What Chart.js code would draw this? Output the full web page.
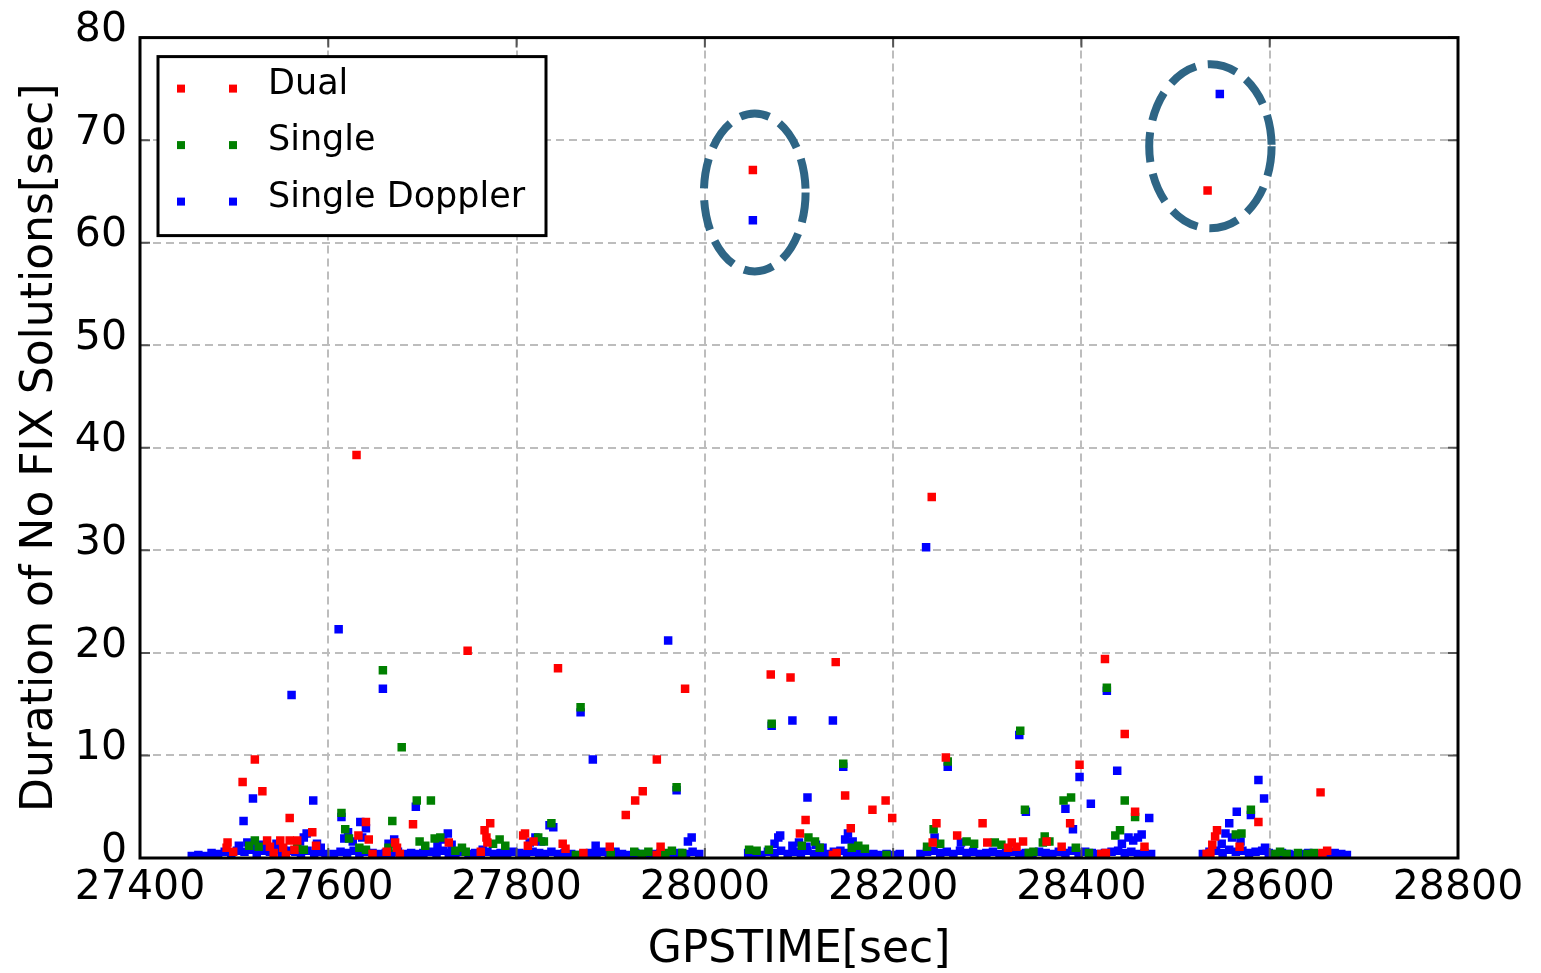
<!DOCTYPE html>
<html>
<head>
<meta charset="utf-8">
<script src="https://cdn.jsdelivr.net/npm/chart.js@4.4.1/dist/chart.umd.min.js"></script>
<style>
  html, body { margin: 0; padding: 0; background: #fff; }
  canvas { display: block; }
</style>
</head>
<body>
<canvas id="myChart" width="1541" height="973"></canvas>
<script>
// [GPS time (sec), duration of no FIX (sec)]
const dual = [
  [27492, 1.0], [27493, 1.5], [27499, 0.6], [27509, 7.4], [27522, 9.6], [27530, 6.5], [27535, 1.7], [27538, 1.1],
  [27542, 0.5], [27549, 1.7], [27552, 1.0], [27555, 0.3], [27559, 3.9], [27559, 1.7], [27564, 0.8], [27567, 1.7],
  [27583, 2.5], [27587, 1.2], [27630, 39.3], [27632, 2.2], [27640, 3.5], [27643, 1.8], [27647, 0.4], [27662, 0.6],
  [27671, 1.5], [27673, 1.0], [27676, 0.4], [27690, 3.3], [27728, 1.5], [27748, 20.2], [27762, 0.6], [27766, 2.7],
  [27768, 2.0], [27769, 1.5], [27772, 3.4], [27807, 2.2], [27809, 2.4], [27812, 1.2], [27818, 1.6], [27844, 18.5],
  [27849, 1.4], [27852, 0.9], [27871, 0.5], [27899, 1.1], [27916, 4.2], [27926, 5.6], [27934, 6.5], [27949, 9.6],
  [27949, 0.3], [27953, 1.1], [27979, 16.5], [28051, 67.1], [28070, 17.9], [28091, 17.6], [28101, 2.4], [28107, 3.7],
  [28136, 0.3], [28139, 19.1], [28140, 0.5], [28149, 6.1], [28155, 2.9], [28178, 4.7], [28192, 5.6], [28199, 3.9],
  [28241, 35.2], [28242, 1.5], [28246, 3.4], [28256, 9.8], [28268, 2.2], [28295, 3.4], [28300, 1.5], [28322, 1.0],
  [28326, 1.5], [28331, 1.1], [28338, 1.6], [28363, 1.6], [28379, 1.1], [28388, 3.4], [28398, 9.1], [28421, 0.4],
  [28425, 19.4], [28426, 0.5], [28446, 12.1], [28457, 4.5], [28467, 1.1], [28533, 0.4], [28534, 65.1], [28537, 0.5],
  [28539, 1.3], [28542, 2.1], [28544, 2.7], [28568, 1.1], [28588, 3.5], [28654, 6.4], [28656, 0.5], [28661, 0.7]
];

const single = [
  [27516, 1.2], [27522, 1.7], [27526, 1.1], [27567, 1.0], [27574, 0.8], [27614, 4.4], [27618, 2.8], [27622, 1.9],
  [27633, 1.0], [27640, 0.8], [27658, 18.3], [27664, 1.0], [27668, 3.6], [27678, 10.8], [27694, 5.6], [27697, 1.6],
  [27703, 1.2], [27709, 5.6], [27713, 1.9], [27719, 2.0], [27735, 0.7], [27742, 1.0], [27746, 0.6], [27775, 1.4],
  [27782, 1.8], [27788, 1.2], [27823, 2.0], [27829, 1.6], [27837, 3.4], [27863, 0.3], [27868, 14.7], [27900, 0.5],
  [27925, 0.6], [27933, 0.4], [27940, 0.6], [27958, 0.5], [27965, 0.7], [27970, 6.9], [27976, 0.5], [28047, 0.8],
  [28055, 0.7], [28068, 0.8], [28071, 13.1], [28103, 1.2], [28110, 2.0], [28117, 1.6], [28122, 1.0], [28147, 9.2],
  [28156, 1.0], [28163, 1.2], [28170, 0.9], [28193, 0.3], [28236, 1.1], [28243, 2.8], [28250, 1.4], [28258, 9.4],
  [28278, 1.6], [28286, 1.4], [28308, 1.5], [28315, 1.3], [28335, 12.4], [28340, 4.7], [28344, 0.5], [28349, 0.6],
  [28359, 1.5], [28361, 2.1], [28366, 1.6], [28381, 5.6], [28389, 5.9], [28394, 1.0], [28408, 0.5], [28427, 16.6],
  [28436, 2.2], [28441, 2.7], [28446, 5.6], [28457, 4.0], [28564, 2.3], [28570, 2.4], [28580, 4.7], [28606, 0.4],
  [28611, 0.6], [28618, 0.4], [28630, 0.5], [28640, 0.4], [28647, 0.5]
];

const singleDoppler = [
  [27505, 1.2], [27510, 3.6], [27514, 1.5], [27520, 5.8], [27523, 1.0], [27530, 1.3], [27537, 1.0], [27545, 1.4],
  [27552, 0.8], [27561, 15.9], [27570, 1.6], [27574, 2.0], [27577, 2.4], [27584, 5.6], [27588, 1.4], [27592, 1.0],
  [27611, 22.3], [27614, 4.0], [27617, 1.9], [27621, 2.5], [27626, 1.6], [27634, 3.5], [27636, 2.0], [27640, 2.9],
  [27658, 16.5], [27664, 1.4], [27670, 1.8], [27693, 5.0], [27716, 1.2], [27722, 1.8], [27727, 2.4], [27731, 1.3],
  [27764, 0.8], [27814, 1.5], [27820, 2.0], [27826, 1.6], [27835, 3.2], [27839, 3.0], [27868, 14.2], [27881, 9.6],
  [27884, 1.2], [27905, 0.6], [27961, 21.2], [27970, 6.6], [27982, 1.6], [27986, 2.0], [28051, 62.2], [28071, 12.9],
  [28074, 1.4], [28078, 2.0], [28080, 2.2], [28093, 1.2], [28093, 13.4], [28100, 1.5], [28108, 1.1], [28109, 5.9],
  [28118, 1.3], [28125, 1.0], [28136, 13.4], [28147, 8.9], [28149, 1.8], [28152, 2.4], [28157, 1.6], [28235, 30.3],
  [28244, 2.0], [28258, 8.9], [28272, 1.5], [28334, 12.0], [28341, 4.5], [28383, 4.8], [28391, 2.8], [28398, 7.9],
  [28410, 5.3], [28427, 16.3], [28438, 8.5], [28443, 1.4], [28450, 2.0], [28455, 1.7], [28460, 2.0], [28464, 2.3],
  [28472, 3.9], [28547, 74.5], [28549, 1.4], [28553, 2.4], [28557, 3.4], [28560, 2.0], [28565, 4.5], [28569, 1.6],
  [28580, 4.2], [28588, 7.6], [28594, 5.8], [28595, 1.0], [28675, 0.3],
  // dense run of short outages along the bottom
  [27455, 0.2], [27462, 0.3], [27470, 0.2], [27476, 0.5], [27483, 0.4], [27490, 0.6], [27497, 0.5], [27503, 0.7],
  [27511, 0.6], [27517, 0.8], [27524, 0.5], [27531, 0.7], [27538, 0.6], [27544, 0.8], [27551, 0.5], [27558, 0.7],
  [27565, 0.6], [27571, 0.5], [27578, 0.7], [27585, 0.4], [27591, 0.6], [27597, 0.4], [27606, 0.4], [27613, 0.6],
  [27620, 0.5], [27627, 0.7], [27633, 0.4], [27640, 0.6], [27647, 0.5], [27654, 0.4], [27661, 0.5], [27667, 0.4],
  [27674, 0.6], [27681, 0.4], [27688, 0.5], [27694, 0.4], [27701, 0.5], [27708, 0.6], [27715, 0.4], [27722, 0.7],
  [27728, 0.5], [27735, 0.4], [27742, 0.6], [27749, 0.4], [27756, 0.5], [27762, 0.4], [27769, 0.6], [27776, 0.4],
  [27783, 0.5], [27790, 0.4], [27796, 0.6], [27803, 0.5], [27810, 0.4], [27817, 0.6], [27824, 0.5], [27830, 0.4],
  [27837, 0.6], [27844, 0.4], [27851, 0.5], [27858, 0.4], [27864, 0.3], [27871, 0.4], [27878, 0.5], [27885, 0.4],
  [27892, 0.6], [27898, 0.4], [27905, 0.5], [27912, 0.4], [27919, 0.3], [27926, 0.5], [27932, 0.4], [27939, 0.3],
  [27946, 0.4], [27953, 0.5], [27960, 0.3], [27966, 0.4], [27973, 0.5], [27980, 0.4], [27987, 0.6], [27994, 0.4],
  [28046, 0.5], [28053, 0.4], [28060, 0.3], [28067, 0.6], [28074, 0.5], [28081, 0.7], [28088, 0.4], [28095, 0.6],
  [28102, 0.5], [28109, 0.7], [28116, 0.4], [28123, 0.5], [28130, 0.4], [28137, 0.6], [28144, 0.7], [28151, 0.5],
  [28158, 0.4], [28165, 0.5], [28172, 0.3], [28179, 0.4], [28186, 0.3], [28193, 0.4], [28200, 0.3], [28207, 0.4],
  [28229, 0.4], [28236, 0.6], [28243, 0.7], [28250, 0.5], [28257, 0.6], [28264, 0.4], [28271, 0.7], [28278, 0.5],
  [28285, 0.6], [28292, 0.4], [28299, 0.5], [28306, 0.6], [28313, 0.4], [28320, 0.5], [28327, 0.6], [28334, 0.4],
  [28341, 0.5], [28348, 0.4], [28355, 0.6], [28362, 0.5], [28369, 0.4], [28376, 0.6], [28383, 0.5], [28390, 0.7],
  [28397, 0.4], [28404, 0.6], [28411, 0.5], [28418, 0.4], [28425, 0.5], [28432, 0.6], [28439, 0.7], [28446, 0.5],
  [28453, 0.6], [28460, 0.4], [28467, 0.5], [28474, 0.4], [28529, 0.4], [28536, 0.6], [28543, 0.7], [28550, 0.5],
  [28557, 0.8], [28564, 0.6], [28571, 0.7], [28578, 0.5], [28585, 0.6], [28592, 0.7], [28599, 0.5], [28606, 0.4],
  [28613, 0.5], [28620, 0.4], [28627, 0.3], [28634, 0.4], [28641, 0.5], [28648, 0.4], [28655, 0.3], [28662, 0.4],
  [28669, 0.5], [28676, 0.4], [28682, 0.3]
];

const xTicks = [27400, 27600, 27800, 28000, 28200, 28400, 28600, 28800];
const yTicks = [0, 10, 20, 30, 40, 50, 60, 70, 80];

const seriesNames = ['Dual', 'Single', 'Single Doppler'];
const seriesColors = ['#ff0000', '#008000', '#0000ff'];

// dashed rings drawn around the outliers (center time, center duration, half-widths in data units)
const circled = [
  { t: 28053, d: 64.9, rt: 54, rd: 7.7 },
  { t: 28537, d: 69.4, rt: 65, rd: 8.0 }
];

const toPoints = arr => arr.map(p => ({ x: p[0], y: p[1] }));

const framePlugin = {
  id: 'frame',
  afterDatasetsDraw(chart) {
    const { ctx, chartArea: a, scales: { x, y } } = chart;
    ctx.save();
    ctx.strokeStyle = '#555';
    ctx.lineWidth = 2;
    ctx.beginPath();
    xTicks.forEach(v => {
      const px = x.getPixelForValue(v);
      ctx.moveTo(px, a.bottom); ctx.lineTo(px, a.bottom - 10);
      ctx.moveTo(px, a.top); ctx.lineTo(px, a.top + 10);
    });
    yTicks.forEach(v => {
      const py = y.getPixelForValue(v);
      ctx.moveTo(a.left, py); ctx.lineTo(a.left + 10, py);
      ctx.moveTo(a.right, py); ctx.lineTo(a.right - 10, py);
    });
    ctx.stroke();

    ctx.strokeStyle = '#000';
    ctx.lineWidth = 3;
    ctx.strokeRect(a.left, a.top, a.right - a.left, a.bottom - a.top);

    // rings
    ctx.strokeStyle = '#2e6585';
    ctx.lineWidth = 8;
    ctx.setLineDash([30, 12]);
    circled.forEach(c => {
      const cx = x.getPixelForValue(c.t);
      const cy = y.getPixelForValue(c.d);
      const rx = Math.abs(x.getPixelForValue(c.t + c.rt) - cx);
      const ry = Math.abs(y.getPixelForValue(c.d + c.rd) - cy);
      ctx.beginPath();
      ctx.ellipse(cx, cy, rx, ry, 0, 0, Math.PI * 2);
      ctx.stroke();
    });
    ctx.restore();
  },
  afterDraw(chart) {
    const { ctx, chartArea: a } = chart;
    const bx = a.left + 18, by = a.top + 19, bw = 388, bh = 179;
    ctx.save();
    ctx.fillStyle = '#fff';
    ctx.fillRect(bx, by, bw, bh);
    ctx.strokeStyle = '#000';
    ctx.lineWidth = 3;
    ctx.strokeRect(bx, by, bw, bh);
    ctx.font = '35px "DejaVu Sans"';
    ctx.textBaseline = 'middle';
    seriesNames.forEach((name, i) => {
      const ry = by + 32 + i * 56.5;
      ctx.fillStyle = seriesColors[i];
      ctx.fillRect(bx + 19, ry - 4, 8, 8);
      ctx.fillRect(bx + 71, ry - 4, 8, 8);
      ctx.fillStyle = '#000';
      ctx.fillText(name, bx + 110, ry - 4);
    });
    ctx.restore();
  }
};

const ctx = document.getElementById('myChart').getContext('2d');

const chart = new Chart(ctx, {
  type: 'scatter',
  data: {
    datasets: [dual, single, singleDoppler].map((arr, i) => ({
      label: seriesNames[i],
      data: toPoints(arr),
      backgroundColor: seriesColors[i],
      borderWidth: 0,
      pointStyle: 'rect',
      pointRadius: 6,
      pointHoverRadius: 6,
      clip: 0
    }))
  },
  options: {
    responsive: false,
    animation: false,
    events: [],
    layout: { padding: { top: 34, right: 83, bottom: 0, left: 0 } },
    plugins: {
      legend: { display: false },
      tooltip: { enabled: false }
    },
    scales: {
      x: {
        type: 'linear',
        min: 27400,
        max: 28800,
        afterBuildTicks: s => { s.ticks = xTicks.map(v => ({ value: v })); },
        afterFit: s => { s.height = 115; },
        ticks: {
          color: '#000',
          padding: 6,
          maxRotation: 0,
          font: { family: 'DejaVu Sans', size: 41 },
          callback: v => String(v)
        },
        grid: { color: '#bdbdbd', lineWidth: 2, drawTicks: false },
        border: { display: false, dash: [8, 5] },
        title: {
          display: true,
          text: 'GPSTIME[sec]',
          color: '#000',
          font: { family: 'DejaVu Sans', size: 44, lineHeight: 1.0 },
          padding: { top: 0, bottom: 0 }
        }
      },
      y: {
        min: 0,
        max: 80,
        afterBuildTicks: s => { s.ticks = yTicks.map(v => ({ value: v })); },
        afterFit: s => { s.width = 140; },
        ticks: {
          color: '#000',
          padding: 13,
          labelOffset: -7,
          font: { family: 'DejaVu Sans', size: 41 }
        },
        grid: { color: '#bdbdbd', lineWidth: 2, drawTicks: false },
        border: { display: false, dash: [8, 5] },
        title: {
          display: true,
          text: 'Duration of No FIX Solutions[sec]',
          color: '#000',
          font: { family: 'DejaVu Sans', size: 44 },
          padding: { top: 14, bottom: 0 }
        }
      }
    }
  },
  plugins: [framePlugin]
});
</script>
</body>
</html>
